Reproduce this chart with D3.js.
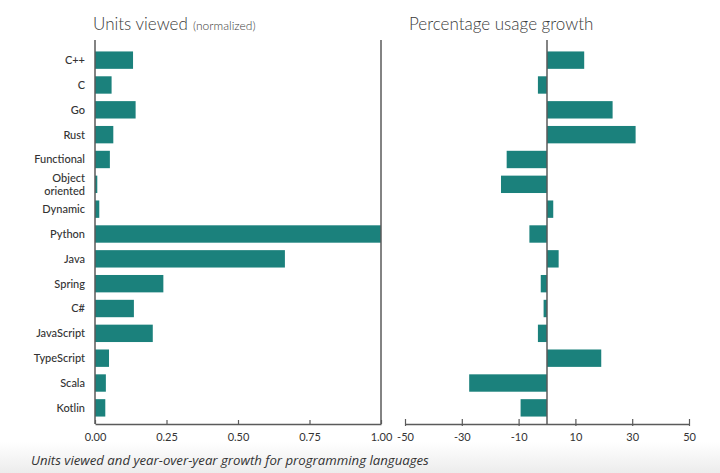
<!DOCTYPE html>
<html>
<head>
<meta charset="utf-8">
<script src="https://cdn.jsdelivr.net/npm/d3@7"></script>
<style>
  body { margin: 0; background: #fff; }
  svg { display: block; font-family: Lato, "Noto Sans", sans-serif; }
</style>
</head>
<body>
<div id="chart"></div>
<script>
// data
const languages = ["C++", "C", "Go", "Rust", "Functional", "Object oriented", "Dynamic", "Python",
  "Java", "Spring", "C#", "JavaScript", "TypeScript", "Scala", "Kotlin"];
const unitsViewed = [0.133, 0.058, 0.142, 0.064, 0.052, 0.008, 0.015, 1.0,
  0.664, 0.239, 0.136, 0.202, 0.049, 0.038, 0.036];
const usageGrowth = [13.1, -3.2, 23.1, 31.2, -14.2, -16.2, 2.2, -6.2,
  4.1, -2.2, -1.2, -3.2, 19.1, -27.4, -9.3];
const leftTicks = [0, 0.25, 0.5, 0.75, 1];
const rightTicks = [-50, -30, -10, 10, 30, 50];

const width = 720, height = 473;
const barColor = "#1b817c", axisColor = "#5a5a5a", textColor = "#333";
const plotTop = 40, plotBottom = 424;

let svg = d3.select('#chart')
    .append('svg')
    .attr('width', width)
    .attr('height', height);

// soft grey band behind the caption
let grad = svg.append("defs").append("linearGradient")
    .attr("id", "fade").attr("x1", 0).attr("y1", 0).attr("x2", 0).attr("y2", 1);
grad.append("stop").attr("offset", "0%").attr("stop-color", "#fff");
grad.append("stop").attr("offset", "100%").attr("stop-color", "#ececec");
svg.append("rect").attr("x", 0).attr("y", 442).attr("width", width).attr("height", 31)
    .attr("fill", "url(#fade)");

let yScale = d3.scaleBand()
    .domain(languages)
    .range([44, 424])
    .padding(0.3);

let xLeft = d3.scaleLinear().domain([0, 1]).range([95, 381]);
let xRight = d3.scaleLinear().domain([-50, 50]).range([405, 689]);

// titles
let t1 = svg.append("text").attr("x", 93).attr("y", 30)
    .attr("fill", "#3a3a3a").style("font-size", "17px").style("font-weight", 300);
t1.append("tspan").text("Units viewed");
t1.append("tspan").text(" (normalized)").attr("dx", 2).style("font-size", "12px");

svg.append("text").attr("x", 409).attr("y", 30)
    .attr("fill", "#3a3a3a").style("font-size", "17px").style("font-weight", 300)
    .text("Percentage usage growth");

// left panel bars
svg.selectAll(".barL")
    .data(languages)
    .join("rect")
    .attr("class", "barL")
    .attr("x", xLeft(0))
    .attr("y", d => yScale(d))
    .attr("width", (d, i) => xLeft(unitsViewed[i]) - xLeft(0))
    .attr("height", yScale.bandwidth())
    .attr("fill", barColor);

// right panel bars
svg.selectAll(".barR")
    .data(languages)
    .join("rect")
    .attr("class", "barR")
    .attr("x", (d, i) => xRight(Math.min(0, usageGrowth[i])))
    .attr("y", d => yScale(d))
    .attr("width", (d, i) => Math.abs(xRight(usageGrowth[i]) - xRight(0)))
    .attr("height", yScale.bandwidth())
    .attr("fill", barColor);

// category labels
let labels = svg.append("g")
    .attr("fill", textColor)
    .style("font-size", "11px")
    .style("font-weight", 500)
    .attr("text-anchor", "end");

labels.selectAll("text")
    .data(languages)
    .join("text")
    .attr("x", 85)
    .attr("y", d => yScale(d) + yScale.bandwidth() / 2)
    .each(function(d){
        let words = d == "Object oriented" ? ["Object", "oriented"] : [d];
        let el = d3.select(this);
        words.forEach((w, k) => {
            el.append("tspan")
                .attr("x", 85)
                .attr("dy", words.length == 1 ? "0.35em" : (k == 0 ? "-0.2em" : "1.15em"))
                .text(w);
        });
    });

// left frame (no top)
svg.append("line").attr("x1", xLeft(0)).attr("x2", xLeft(0)).attr("y1", plotTop).attr("y2", plotBottom)
    .attr("stroke", axisColor).attr("stroke-width", 1.5);
svg.append("line").attr("x1", xLeft(1)).attr("x2", xLeft(1)).attr("y1", plotTop).attr("y2", plotBottom)
    .attr("stroke", axisColor).attr("stroke-width", 1.5);

// right zero line
svg.append("line").attr("x1", xRight(0)).attr("x2", xRight(0)).attr("y1", plotTop).attr("y2", plotBottom)
    .attr("stroke", axisColor).attr("stroke-width", 1.5);

// axes
let axL = svg.append("g")
    .attr("transform", `translate(0,${plotBottom})`)
    .call(d3.axisBottom(xLeft).tickValues(leftTicks).tickFormat(d3.format(".2f")).tickSizeInner(-4).tickSizeOuter(0).tickPadding(9));

let axR = svg.append("g")
    .attr("transform", `translate(0,${plotBottom})`)
    .call(d3.axisBottom(xRight).tickValues(rightTicks).tickFormat(d => d).tickSizeInner(-5).tickSizeOuter(0).tickPadding(9));

axR.selectAll(".tick line").attr("y1", 2);

[axL, axR].forEach(ax => {
    ax.select(".domain").attr("stroke", axisColor).attr("stroke-width", 1.5);
    ax.selectAll(".tick line").attr("stroke", axisColor).attr("stroke-width", 1.2);
    ax.selectAll("text")
        .attr("fill", textColor)
        .style("font-size", "11px")
        .style("font-family", "Lato, 'Noto Sans', sans-serif");
});

// caption
svg.append("text")
    .attr("x", 31).attr("y", 465)
    .attr("fill", textColor)
    .style("font-size", "13.2px")
    .style("font-style", "italic")
    .style("font-family", "'Open Sans', 'Noto Sans', sans-serif")
    .text("Units viewed and year-over-year growth for programming languages");
</script>
</body>
</html>
